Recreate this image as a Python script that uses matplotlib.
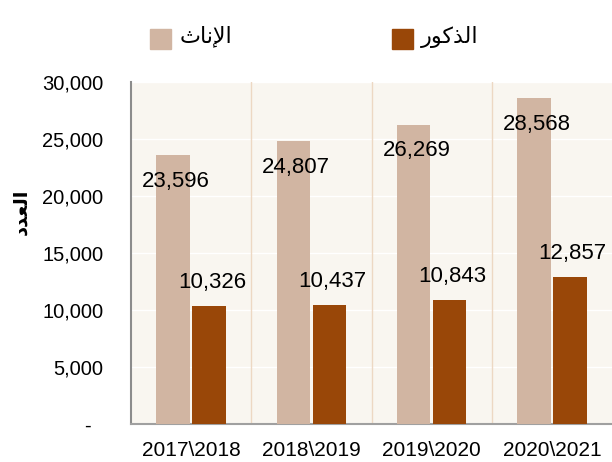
import numpy as np
import matplotlib
matplotlib.use("Agg")
import matplotlib.pyplot as plt
from matplotlib.patches import Rectangle

plt.rcParams['font.family'] = ['Liberation Sans', 'DejaVu Sans']

# data
years = ['2017\\2018', '2018\\2019', '2019\\2020', '2020\\2021']
females = [23596, 24807, 26269, 28568]
males = [10326, 10437, 10843, 12857]

# arabic text, shaped by hand (presentation forms, visual order)
lbl_females = '\uFE99\uFE8E\uFEE7\uFEF9\uFE8D'   # الإناث
lbl_males = '\uFEAD\uFEEE\uFEDB\uFEAC\uFEDF\uFE8D'  # الذكور
lbl_count = '\uFEA9\uFEAA\uFECC\uFEDF\uFE8D'       # العدد

c_fem = '#D1B5A2'
c_male = '#994708'
c_bg = '#F9F6F0'

fig = plt.figure(figsize=(6.12, 4.62), dpi=100)
ax = fig.add_axes([131/612, 1 - 424/462, 481/612, 342/462])
ax.set_facecolor(c_bg)

x = np.arange(len(years))
w = 0.28
ax.bar(x - 0.15, females, w, color=c_fem, zorder=3)
ax.bar(x + 0.15, males, w, color=c_male, zorder=3)

for i in range(len(years)):
    ax.annotate(f'{females[i]:,}', (x[i] - 0.15, females[i]), xytext=(2, -19),
                textcoords='offset points', ha='center', va='center', fontsize=16, zorder=4)
    ax.annotate(f'{males[i]:,}', (x[i] + 0.15, males[i]), xytext=(2, 17),
                textcoords='offset points', ha='center', va='center', fontsize=16, zorder=4)

ax.set_xlim(-0.5, 3.5)
ax.set_ylim(0, 30000)
ax.set_yticks(np.arange(0, 30001, 5000))
ax.set_yticklabels(['-  '] + [f'{v:,}' for v in range(5000, 30001, 5000)])
ax.set_xticks(x)
ax.set_xticklabels(years)
ax.tick_params(axis='y', length=0, pad=20, labelsize=14.5)
ax.tick_params(axis='x', length=0, pad=12, labelsize=15)

ax.grid(axis='y', color='white', linewidth=1, zorder=1)
for sep in [0.5, 1.5, 2.5]:
    ax.axvline(sep, color='#EDD8C3', linewidth=1, zorder=2)

for s in ['top', 'right']:
    ax.spines[s].set_visible(False)
ax.spines['left'].set_color('#8C8C8C')
ax.spines['left'].set_linewidth(1.5)
ax.spines['bottom'].set_color('#A0A0A0')
ax.spines['bottom'].set_linewidth(1.5)

fig.text(22/612, 1 - 212/462, lbl_count, rotation=90, ha='center', va='center',
         fontsize=14, fontweight='bold')

# legend
fig.add_artist(Rectangle((150/612, 1 - 49/462), 21/612, 20/462, color=c_fem,
                         transform=fig.transFigure))
fig.text(180/612, 1 - 37/462, lbl_females, ha='left', va='center', fontsize=16)
fig.add_artist(Rectangle((392/612, 1 - 49/462), 21/612, 20/462, color=c_male,
                         transform=fig.transFigure))
fig.text(421/612, 1 - 37/462, lbl_males, ha='left', va='center', fontsize=16)

fig.savefig('out.png', dpi=100)
